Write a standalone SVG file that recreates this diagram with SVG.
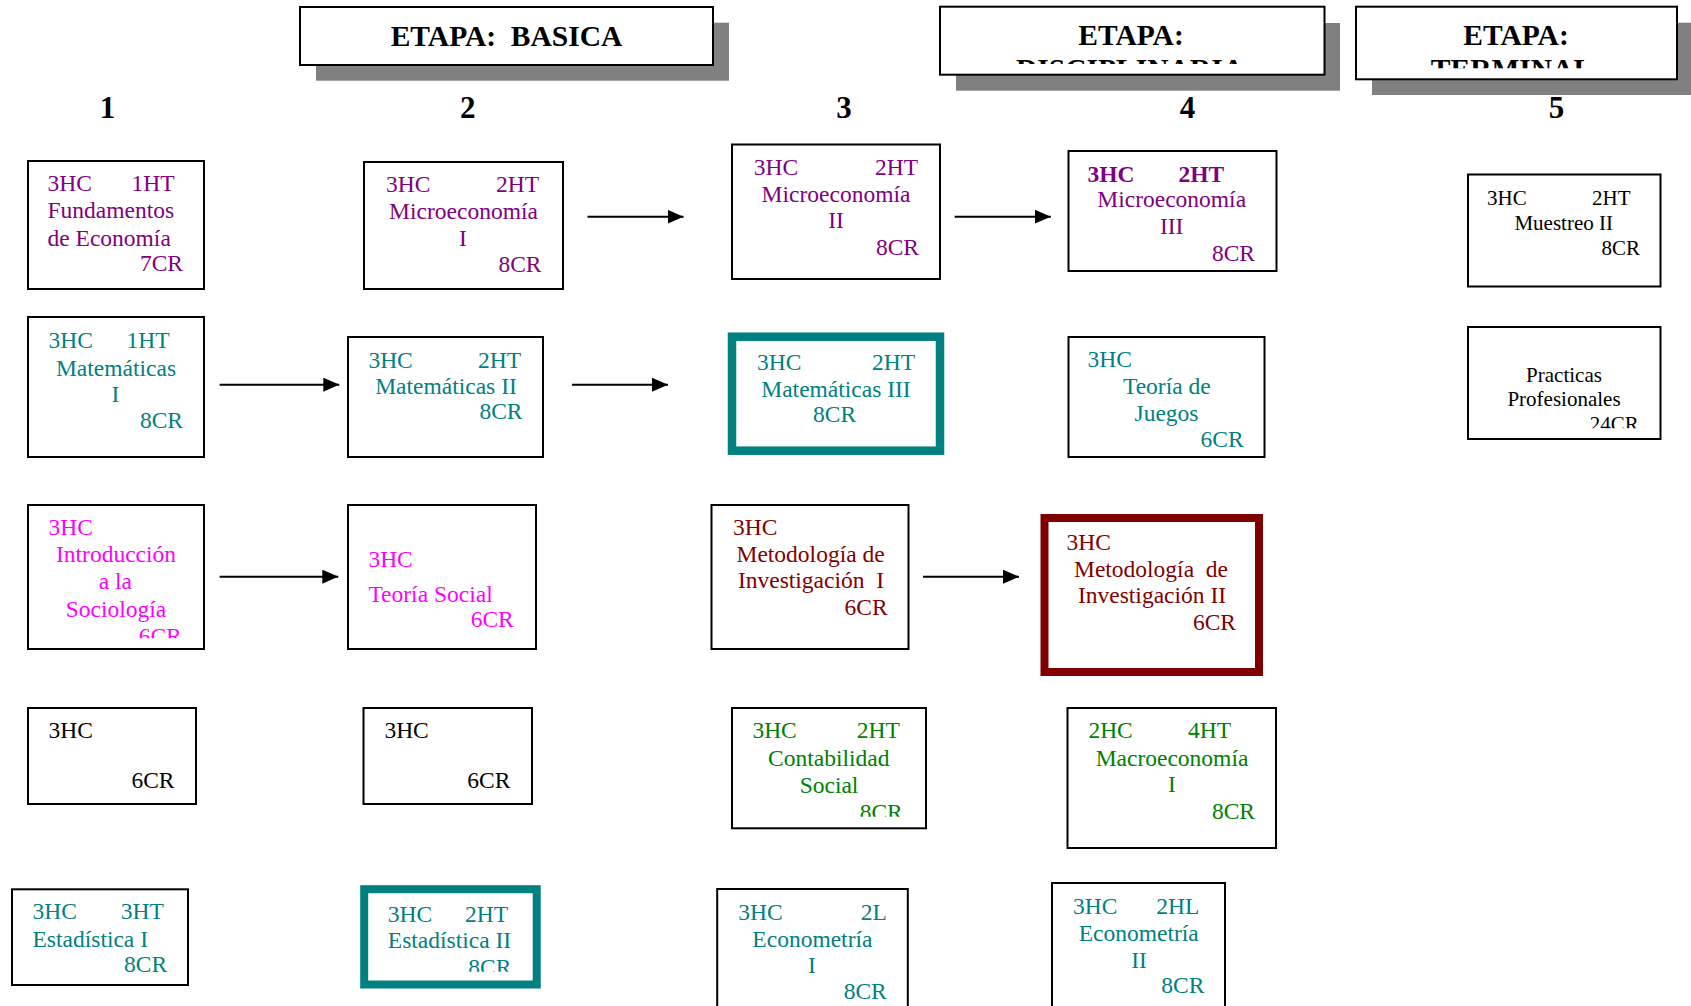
<svg xmlns="http://www.w3.org/2000/svg" width="1691" height="1006" viewBox="0 0 1691 1006">
<style>
.box{fill:#fff;stroke:#000;stroke-width:2}
.shadow{fill:#808080}
.t{font-family:"Liberation Serif","Times New Roman",serif;font-size:23.5px}
.s{font-size:21px}
.b{font-weight:bold}
.pu{fill:#800080}.te{fill:#008080}.ma{fill:#FF00FF}.dr{fill:#800000}.gr{fill:#008000}.bk{fill:#000}
.m{text-anchor:middle}.e{text-anchor:end}
.hd{font-family:"Liberation Serif","Times New Roman",serif;font-weight:bold;font-size:29.5px;text-anchor:middle;fill:#000}
.num{font-family:"Liberation Serif","Times New Roman",serif;font-weight:bold;font-size:31px;text-anchor:middle;fill:#000}
.conn line{stroke:#000;stroke-width:2;marker-end:url(#ah)}
</style>
<defs>
<marker id="ah" markerUnits="userSpaceOnUse" markerWidth="16" markerHeight="14" refX="16" refY="7" orient="auto">
<path d="M0,0 L16,7 L0,14 z" fill="#000"/>
</marker>
<clipPath id="cDis"><rect x="940" y="0" width="385" height="64"/></clipPath>
<clipPath id="cTer"><rect x="1356" y="0" width="321" height="68.3"/></clipPath>
<clipPath id="cIntro"><rect x="28" y="505" width="176" height="133.3"/></clipPath>
<clipPath id="cPrac"><rect x="1468" y="327" width="192" height="101.3"/></clipPath>
<clipPath id="cCont"><rect x="732" y="708" width="194" height="108.7"/></clipPath>
<clipPath id="cEst2"><rect x="364" y="889" width="172" height="82.7"/></clipPath>
</defs>

<g id="etapa-basica">
<rect class="shadow" x="316" y="22.7" width="413" height="58"/>
<rect class="box" x="300" y="7" width="413" height="58"/>
<text class="hd" x="506.5" y="46" xml:space="preserve">ETAPA:  BASICA</text>
</g>
<g id="etapa-disciplinaria">
<rect class="shadow" x="956" y="23" width="384" height="67.7"/>
<rect class="box" x="940" y="6.7" width="384.5" height="68"/>
<text class="hd" x="1131" y="45">ETAPA:</text>
<text class="hd" x="1130" y="79" clip-path="url(#cDis)">DISCIPLINARIA</text>
</g>
<g id="etapa-terminal">
<rect class="shadow" x="1372" y="22.7" width="319" height="72.3"/>
<rect class="box" x="1356" y="6.7" width="321" height="72.6"/>
<text class="hd" x="1516" y="45">ETAPA:</text>
<text class="hd" x="1512" y="79" clip-path="url(#cTer)">TERMINAL</text>
</g>

<g id="column-numbers">
<text class="num" x="107.6" y="118">1</text>
<text class="num" x="467.8" y="118">2</text>
<text class="num" x="844" y="118">3</text>
<text class="num" x="1187.4" y="118">4</text>
<text class="num" x="1556.5" y="118">5</text>
</g>

<g id="fundamentos" class="t pu">
<rect class="box" x="28" y="161" width="176" height="128"/>
<text x="47.5" y="190.7">3HC</text><text class="e" x="174.5" y="190.7">1HT</text>
<text x="47.5" y="218">Fundamentos</text>
<text x="47.5" y="246">de Economía</text>
<text class="e" x="183" y="271">7CR</text>
</g>
<g id="micro1" class="t pu">
<rect class="box" x="364" y="162" width="199" height="127"/>
<text x="386" y="192">3HC</text><text class="e" x="539" y="192">2HT</text>
<text class="m" x="463.5" y="219">Microeconomía</text>
<text class="m" x="463" y="245.7">I</text>
<text class="e" x="541.5" y="271.7">8CR</text>
</g>
<g id="micro2" class="t pu">
<rect class="box" x="732" y="144.5" width="208" height="134.5"/>
<text x="753.7" y="175">3HC</text><text class="e" x="918" y="175">2HT</text>
<text class="m" x="836" y="201.7">Microeconomía</text>
<text class="m" x="836" y="228.3">II</text>
<text class="e" x="919" y="255">8CR</text>
</g>
<g id="micro3" class="t pu">
<rect class="box" x="1068.5" y="151" width="208" height="120"/>
<text class="b" x="1087.5" y="181.7">3HC</text><text class="b" x="1178.5" y="181.7">2HT</text>
<text class="m" x="1171.7" y="207.3">Microeconomía</text>
<text class="m" x="1171.7" y="234.3">III</text>
<text class="e" x="1255" y="261">8CR</text>
</g>
<g id="muestreo2" class="t s bk">
<rect class="box" x="1468" y="174.5" width="192.5" height="112"/>
<text x="1487" y="205">3HC</text><text class="e" x="1630.5" y="205">2HT</text>
<text class="m" x="1563.7" y="230">Muestreo II</text>
<text class="e" x="1640" y="255">8CR</text>
</g>

<g id="mat1" class="t te">
<rect class="box" x="28" y="317" width="176" height="140"/>
<text x="48.5" y="348.3">3HC</text><text class="e" x="169.7" y="348.3">1HT</text>
<text class="m" x="116" y="376">Matemáticas</text>
<text class="m" x="115.4" y="401.7">I</text>
<text class="e" x="183" y="428.3">8CR</text>
</g>
<g id="mat2" class="t te">
<rect class="box" x="348" y="337" width="195" height="120"/>
<text x="368.4" y="367.7">3HC</text><text class="e" x="521" y="367.7">2HT</text>
<text class="m" x="446" y="394.3">Matemáticas II</text>
<text class="e" x="522.5" y="419">8CR</text>
</g>
<g id="mat3" class="t te">
<rect x="732" y="336.7" width="208" height="114" fill="#fff" stroke="#008080" stroke-width="8.5"/>
<text x="757" y="370">3HC</text><text class="e" x="915" y="370">2HT</text>
<text class="m" x="836" y="396.7">Matemáticas III</text>
<text class="m" x="834.6" y="421.7">8CR</text>
</g>
<g id="teoria-juegos" class="t te">
<rect class="box" x="1068.5" y="337" width="196" height="120"/>
<text x="1087.5" y="366.7">3HC</text>
<text class="m" x="1166.8" y="394.3">Teoría de</text>
<text class="m" x="1166.5" y="420.7">Juegos</text>
<text class="e" x="1243.6" y="446.7">6CR</text>
</g>
<g id="practicas" class="t s bk">
<rect class="box" x="1468" y="327" width="192.5" height="112"/>
<text class="m" x="1564" y="381.7">Practicas</text>
<text class="m" x="1564" y="406">Profesionales</text>
<text class="e" x="1638.7" y="430.7" clip-path="url(#cPrac)">24CR</text>
</g>

<g id="intro-sociologia" class="t ma">
<rect class="box" x="28" y="505" width="176" height="144"/>
<text x="48.5" y="535">3HC</text>
<text class="m" x="116" y="562.3">Introducción</text>
<text class="m" x="115.4" y="589">a la</text>
<text class="m" x="116" y="616.7">Sociología</text>
<text class="e" x="181.8" y="643.7" clip-path="url(#cIntro)">6CR</text>
</g>
<g id="teoria-social" class="t ma">
<rect class="box" x="348" y="505" width="188" height="144"/>
<text x="368.4" y="567.3">3HC</text>
<text x="368.4" y="601.7">Teoría Social</text>
<text class="e" x="513.8" y="627.3">6CR</text>
</g>
<g id="metodologia1" class="t dr">
<rect class="box" x="711.5" y="505" width="197" height="144"/>
<text x="733" y="535">3HC</text>
<text class="m" x="810.6" y="561.7">Metodología de</text>
<text class="m" x="811" y="588.3" xml:space="preserve">Investigación  I</text>
<text class="e" x="887.7" y="615">6CR</text>
</g>
<g id="metodologia2" class="t dr">
<rect x="1044.5" y="518" width="214.5" height="154" fill="#fff" stroke="#800000" stroke-width="8"/>
<text x="1066.6" y="550">3HC</text>
<text class="m" x="1151" y="576.7" xml:space="preserve">Metodología  de</text>
<text class="m" x="1152" y="603.3">Investigación II</text>
<text class="e" x="1236" y="630">6CR</text>
</g>

<g id="blank1" class="t bk">
<rect class="box" x="28" y="708" width="168" height="96"/>
<text x="48.5" y="738.3">3HC</text>
<text class="e" x="174.5" y="788.3">6CR</text>
</g>
<g id="blank2" class="t bk">
<rect class="box" x="363.5" y="708" width="168.5" height="96"/>
<text x="384.4" y="738.3">3HC</text>
<text class="e" x="510.4" y="788.3">6CR</text>
</g>
<g id="contabilidad" class="t gr">
<rect class="box" x="732" y="708" width="194" height="120.3"/>
<text x="752.4" y="738.3">3HC</text><text class="e" x="899.8" y="738.3">2HT</text>
<text class="m" x="828.8" y="765.7">Contabilidad</text>
<text class="m" x="829" y="793.3">Social</text>
<text class="e" x="902.8" y="819.5" clip-path="url(#cCont)">8CR</text>
</g>
<g id="macro1" class="t gr">
<rect class="box" x="1067.5" y="708" width="208.5" height="140"/>
<text x="1088.4" y="738.3">2HC</text><text class="e" x="1231" y="738.3">4HT</text>
<text class="m" x="1172" y="765.7">Macroeconomía</text>
<text class="m" x="1172" y="792">I</text>
<text class="e" x="1255" y="819.3">8CR</text>
</g>

<g id="estadistica1" class="t te">
<rect class="box" x="12" y="889.3" width="176" height="95.7"/>
<text x="32.5" y="919.3">3HC</text><text class="e" x="163.8" y="919.3">3HT</text>
<text x="32.5" y="946.7">Estadística I</text>
<text class="e" x="167.2" y="971.7">8CR</text>
</g>
<g id="estadistica2" class="t te">
<rect x="364.2" y="889.2" width="172.5" height="95.3" fill="#fff" stroke="#008080" stroke-width="8"/>
<text x="387.8" y="922.3">3HC</text><text class="e" x="508" y="922.3">2HT</text>
<text x="387.8" y="948.3">Estadística II</text>
<text class="e" x="511.4" y="974.5" clip-path="url(#cEst2)">8CR</text>
</g>
<g id="econometria1" class="t te">
<rect class="box" x="717.2" y="889" width="190.6" height="130"/>
<text x="738.3" y="920">3HC</text><text class="e" x="886.8" y="920">2L</text>
<text class="m" x="812.4" y="946.7">Econometría</text>
<text class="m" x="812" y="972.7">I</text>
<text class="e" x="886.8" y="999.3">8CR</text>
</g>
<g id="econometria2" class="t te">
<rect class="box" x="1052" y="883" width="173" height="140"/>
<text x="1073" y="914.3">3HC</text><text class="e" x="1199.4" y="914.3">2HL</text>
<text class="m" x="1138.7" y="940.7">Econometría</text>
<text class="m" x="1139" y="968.3">II</text>
<text class="e" x="1204.4" y="993.3">8CR</text>
</g>

<g id="connectors" class="conn">
<line x1="587.5" y1="216.7" x2="683.5" y2="216.7"/>
<line x1="954.7" y1="216.7" x2="1050.8" y2="216.7"/>
<line x1="219.6" y1="384.7" x2="339.3" y2="384.7"/>
<line x1="572" y1="384.7" x2="668" y2="384.7"/>
<line x1="219.6" y1="576.7" x2="338.3" y2="576.7"/>
<line x1="923" y1="576.7" x2="1019" y2="576.7"/>
</g>
</svg>
